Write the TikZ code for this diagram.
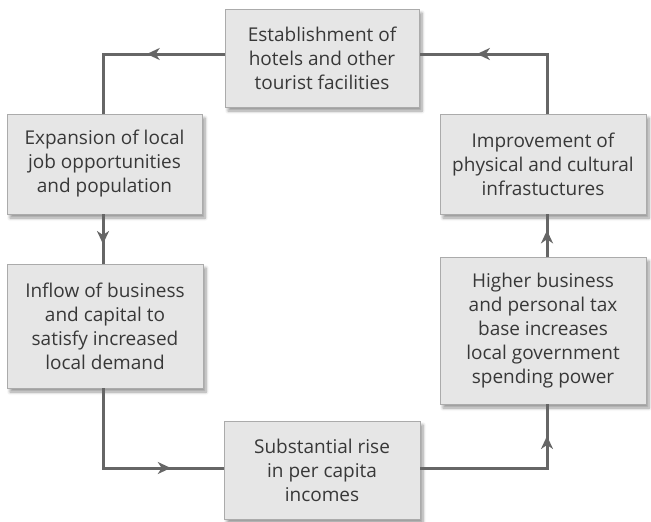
\documentclass[tikz,border=0pt]{standalone}
\usepackage{fontspec}
\setmainfont{Open Sans}
\usetikzlibrary{arrows.meta,shadows.blur,calc}
\definecolor{boxfill}{HTML}{E6E6E6}
\definecolor{boxline}{HTML}{ABABAB}
\definecolor{conncol}{HTML}{666666}
\definecolor{txtcol}{HTML}{383838}
\tikzset{
  stagebox/.style={draw=boxline, line width=1pt, fill=boxfill, align=center, text=txtcol,
    font=\fontsize{19}{24}\selectfont, inner sep=0pt,
    blur shadow={shadow xshift=3pt, shadow yshift=-4pt, shadow blur steps=6, shadow opacity=40, shadow blur radius=3pt}},
  conn/.style={draw=conncol, line width=3pt},
  arrowpart/.style={draw=conncol, line width=3pt, -{Stealth[length=13pt,width=12pt,inset=4pt]}}
}
\begin{document}
\begin{tikzpicture}[x=1pt,y=-1pt]
\useasboundingbox (0,0) rectangle (651,522);
\node[stagebox, minimum width=194pt, minimum height=98pt] (b1) at (322,58) {Establishment of\\hotels and other\\tourist facilities};
\node[stagebox, minimum width=206pt, minimum height=100pt] (b2) at (543,164) {Improvement of\\physical and cultural\\infrastuctures};
\node[stagebox, minimum width=195pt, minimum height=100pt] (b3) at (104.5,164) {Expansion of local\\job opportunities\\and population};
\node[stagebox, minimum width=196pt, minimum height=124pt] (b4) at (105,326) {Inflow of business\\and capital to\\satisfy increased\\local demand};
\node[stagebox, minimum width=196pt, minimum height=98pt] (b5) at (322,470) {Substantial rise\\in per capita\\incomes};
\node[stagebox, minimum width=206pt, minimum height=147pt] (b6) at (543,330.5) {Higher business\\and personal tax\\base increases\\local government\\spending power};
% corners
\coordinate (s1) at ([yshift=4pt]b1.west);
\coordinate (k1) at (103,54);
\coordinate (e1) at (103,114);
\coordinate (s2) at (547,114);
\coordinate (k2) at (547,54);
\coordinate (e2) at ([yshift=4pt]b1.east);
\coordinate (s3) at (103,214);
\coordinate (e3) at (103,264);
\coordinate (s4) at (103,388);
\coordinate (k4) at (103,468);
\coordinate (e4) at (224,468);
\coordinate (s5) at (420,468);
\coordinate (k5) at (547,468);
\coordinate (e5) at (547,404);
\coordinate (s6) at (547,257);
\coordinate (e6) at (547,214);
% connectors
\draw[conn] (s1) -- (k1) -- (e1);
\draw[arrowpart] (s1) -- ($(s1)!0.64!(k1)$);
\draw[conn] (s2) -- (k2) -- (e2);
\draw[arrowpart] (k2) -- ($(k2)!0.55!(e2)$);
\draw[conn] (s3) -- (e3);
\draw[arrowpart] (s3) -- ($(s3)!0.6!(e3)$);
\draw[conn] (s4) -- (k4) -- (e4);
\draw[arrowpart] (k4) -- ($(k4)!0.56!(e4)$);
\draw[conn] (s5) -- (k5) -- (e5);
\draw[arrowpart] (k5) -- ($(k5)!0.5!(e5)$);
\draw[conn] (s6) -- (e6);
\draw[arrowpart] (s6) -- ($(s6)!0.62!(e6)$);
\end{tikzpicture}
\end{document}
